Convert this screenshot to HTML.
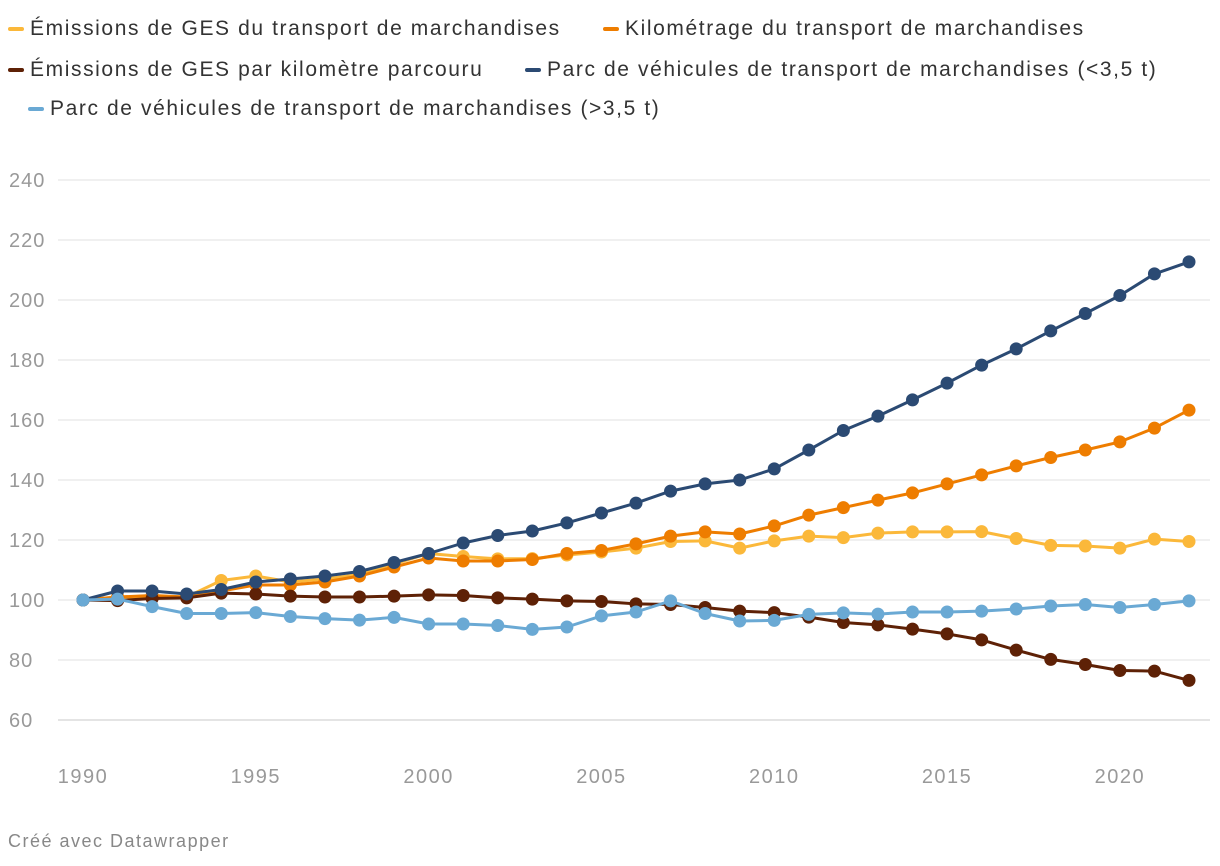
<!DOCTYPE html>
<html><head><meta charset="utf-8"><style>
body{margin:0;background:#fff;font-family:"Liberation Sans",sans-serif}
.leg{position:absolute;font-size:21px;letter-spacing:1.6px;color:#333;display:flex;align-items:center;white-space:nowrap}
.leg i{display:inline-block;width:16px;height:4px;margin-right:6px;border-radius:2px}
</style></head><body>
<div style="position:relative;width:1220px;height:866px">
<div class="leg" style="left:8px;top:17px"><i style="background:#fbb83a"></i>Émissions de GES du transport de marchandises</div>
<div class="leg" style="left:603px;top:17px"><i style="background:#ee7d00"></i>Kilométrage du transport de marchandises</div>
<div class="leg" style="left:8px;top:58px"><i style="background:#5e2106"></i>Émissions de GES par kilomètre parcouru</div>
<div class="leg" style="left:525px;top:58px"><i style="background:#2b4a73"></i>Parc de véhicules de transport de marchandises (&lt;3,5 t)</div>
<div class="leg" style="left:28px;top:97px"><i style="background:#6aa9d4"></i>Parc de véhicules de transport de marchandises (&gt;3,5 t)</div>
<svg id="svg" width="1220" height="866" style="position:absolute;left:0;top:0"></svg>
<div style="position:absolute;left:8px;top:831px;font-size:18px;letter-spacing:1.5px;color:#888">Créé avec Datawrapper</div>
</div>
<script>
const years=[];for(let y=1990;y<=2022;y++)years.push(y);
const yTicks=[60,80,100,120,140,160,180,200,220,240];
const xTicks=[1990,1995,2000,2005,2010,2015,2020];
const gesEmissions=[100,101,101,101,106.5,108,106,107,108.5,112,115.5,114.5,113.7,113.8,115,116,117.3,119.5,119.7,117.3,119.7,121.3,120.8,122.3,122.7,122.7,122.8,120.5,118.2,118,117.3,120.3,119.5];
const kilometrage=[100,101,101.5,101,103,105,105,106,108,111,114,113,113,113.5,115.5,116.5,118.7,121.3,122.7,122,124.7,128.3,130.8,133.3,135.7,138.7,141.7,144.7,147.5,150,152.7,157.3,163.3];
const gesParKm=[100,99.8,100.5,100.7,102.3,102,101.3,101,101,101.3,101.7,101.5,100.7,100.3,99.7,99.5,98.7,98.5,97.5,96.3,95.8,94.3,92.5,91.7,90.3,88.7,86.7,83.3,80.2,78.5,76.5,76.3,73.2];
const parcMoins=[100,103,103,102,103.5,106,107,108,109.5,112.5,115.5,119,121.5,123,125.7,129,132.3,136.3,138.7,140,143.7,150,156.5,161.3,166.7,172.3,178.3,183.7,189.7,195.5,201.5,208.7,212.7];
const parcPlus=[100,100.3,97.8,95.5,95.5,95.8,94.5,93.8,93.3,94.2,92,92,91.5,90.2,91,94.7,96,99.7,95.5,93,93.2,95.2,95.7,95.3,96,96,96.3,97,98,98.5,97.5,98.5,99.7];
const X=v=>83+(v-1990)*(1106/32), Y=v=>720-(v-60)*3;
const svg=document.getElementById('svg'),NS='http://www.w3.org/2000/svg';
function mk(t,a){const e=document.createElementNS(NS,t);for(const k in a)e.setAttribute(k,a[k]);svg.appendChild(e);return e;}
yTicks.forEach(t=>{
 const l=mk('line',{x1:58,x2:1210,y1:Y(t),y2:Y(t),stroke:t==60?'#c8c8c8':'#e2e2e2','stroke-width':1});
 
 
 const tx=mk('text',{x:9,y:Y(t)+7,'font-size':20,'letter-spacing':1,fill:'#999','font-family':'Liberation Sans'});tx.textContent=t;
 
 
});
xTicks.forEach(t=>{
 const tx=mk('text',{x:X(t),y:783,'font-size':20,'letter-spacing':1.5,fill:'#999','text-anchor':'middle','font-family':'Liberation Sans'});tx.textContent=t;
 
 
});
const series=[[gesEmissions,'#fbb83a','ges-emissions'],[kilometrage,'#ee7d00','kilometrage'],[gesParKm,'#5e2106','ges-par-km'],[parcMoins,'#2b4a73','parc-moins-3-5t'],[parcPlus,'#6aa9d4','parc-plus-3-5t']];
series.forEach(([d,c,n])=>{
 const p=mk('polyline',{points:d.map((v,i)=>X(years[i])+','+Y(v)).join(' '),fill:'none',stroke:c,'stroke-width':3,'stroke-linejoin':'round'});
 
 
 d.forEach((v,i)=>{const ci=mk('circle',{cx:X(years[i]),cy:Y(v),r:6.5,fill:c});
 
 });
});
</script>
</body></html>
